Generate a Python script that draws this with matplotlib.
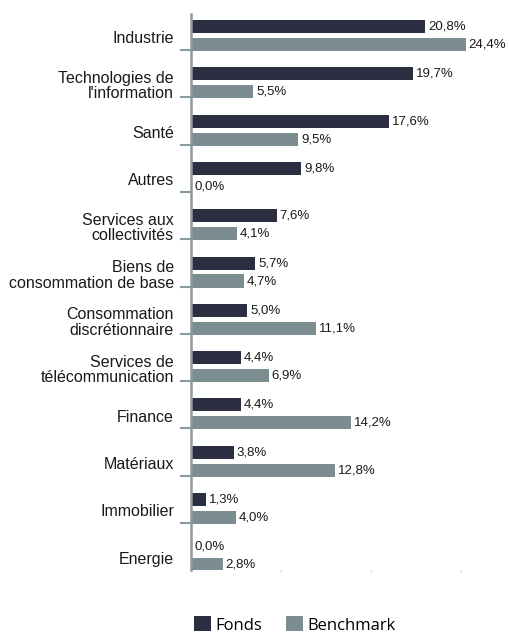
import numpy as np
import matplotlib
matplotlib.use("Agg")
import matplotlib.pyplot as plt

categories = ["Industrie", "Technologies de\nl'information", "Santé", "Autres",
              "Services aux\ncollectivités", "Biens de\nconsommation de base",
              "Consommation\ndiscrétionnaire", "Services de\ntélécommunication",
              "Finance", "Matériaux", "Immobilier", "Energie"]
fonds = [20.8, 19.7, 17.6, 9.8, 7.6, 5.7, 5.0, 4.4, 4.4, 3.8, 1.3, 0.0]
benchmark = [24.4, 5.5, 9.5, 0.0, 4.1, 4.7, 11.1, 6.9, 14.2, 12.8, 4.0, 2.8]

c_fonds = "#2b2e40"
c_bench = "#7b8d91"
c_axis = "#8a9a9e"

plt.rcParams["font.family"] = ["Liberation Sans", "DejaVu Sans"]

fig = plt.figure(figsize=(5.09, 6.37), dpi=100)
ax = fig.add_axes([191 / 509, 1 - 570 / 637, 315 / 509, 556 / 637])

y = np.arange(len(categories))
h = 0.275
off = 0.19
b1 = ax.barh(y - off, fonds, height=h, color=c_fonds)
b2 = ax.barh(y + off, benchmark, height=h, color=c_bench)

# etiquettes de valeur a droite des barres
for bars, vals in ((b1, fonds), (b2, benchmark)):
    for bar, v in zip(bars, vals):
        ax.text(v + 0.27, bar.get_y() + bar.get_height() / 2,
                "{:.1f}%".format(v).replace(".", ","),
                va="center", ha="left", fontsize=9.5, color="#1a1a1a")

ax.set_xlim(0, 28)
ax.set_ylim(len(categories) - 1 + 0.30, -0.455)

# separateurs entre categories
ax.set_yticks(y[:-1] + 0.307)
ax.set_yticklabels([])
ax.tick_params(axis="y", length=8, width=1.5, color=c_axis, direction="out")
for i, lab in enumerate(categories):
    ax.text(-17 / 11.25, i + 0.07, lab, ha="right", va="center",
            fontsize=11.5, color="#1a1a1a", linespacing=1.05)

ax.set_xticks([8, 16, 24])
ax.set_xticklabels([])
ax.tick_params(axis="x", length=1.5, width=1, color="#c8cfd1", direction="out")

for s in ["top", "right", "bottom"]:
    ax.spines[s].set_visible(False)
ax.spines["left"].set_color(c_axis)
ax.spines["left"].set_linewidth(1.8)

fig.legend([b1, b2], ["Fonds", "Benchmark"], loc="center",
           bbox_to_anchor=(295 / 509, 1 - 625 / 637), ncol=2, frameon=False,
           handlelength=1.0, handleheight=1.0, handletextpad=0.3,
           columnspacing=1.4, prop={"family": "Open Sans", "size": 12})

fig.savefig("out.png", dpi=100)
